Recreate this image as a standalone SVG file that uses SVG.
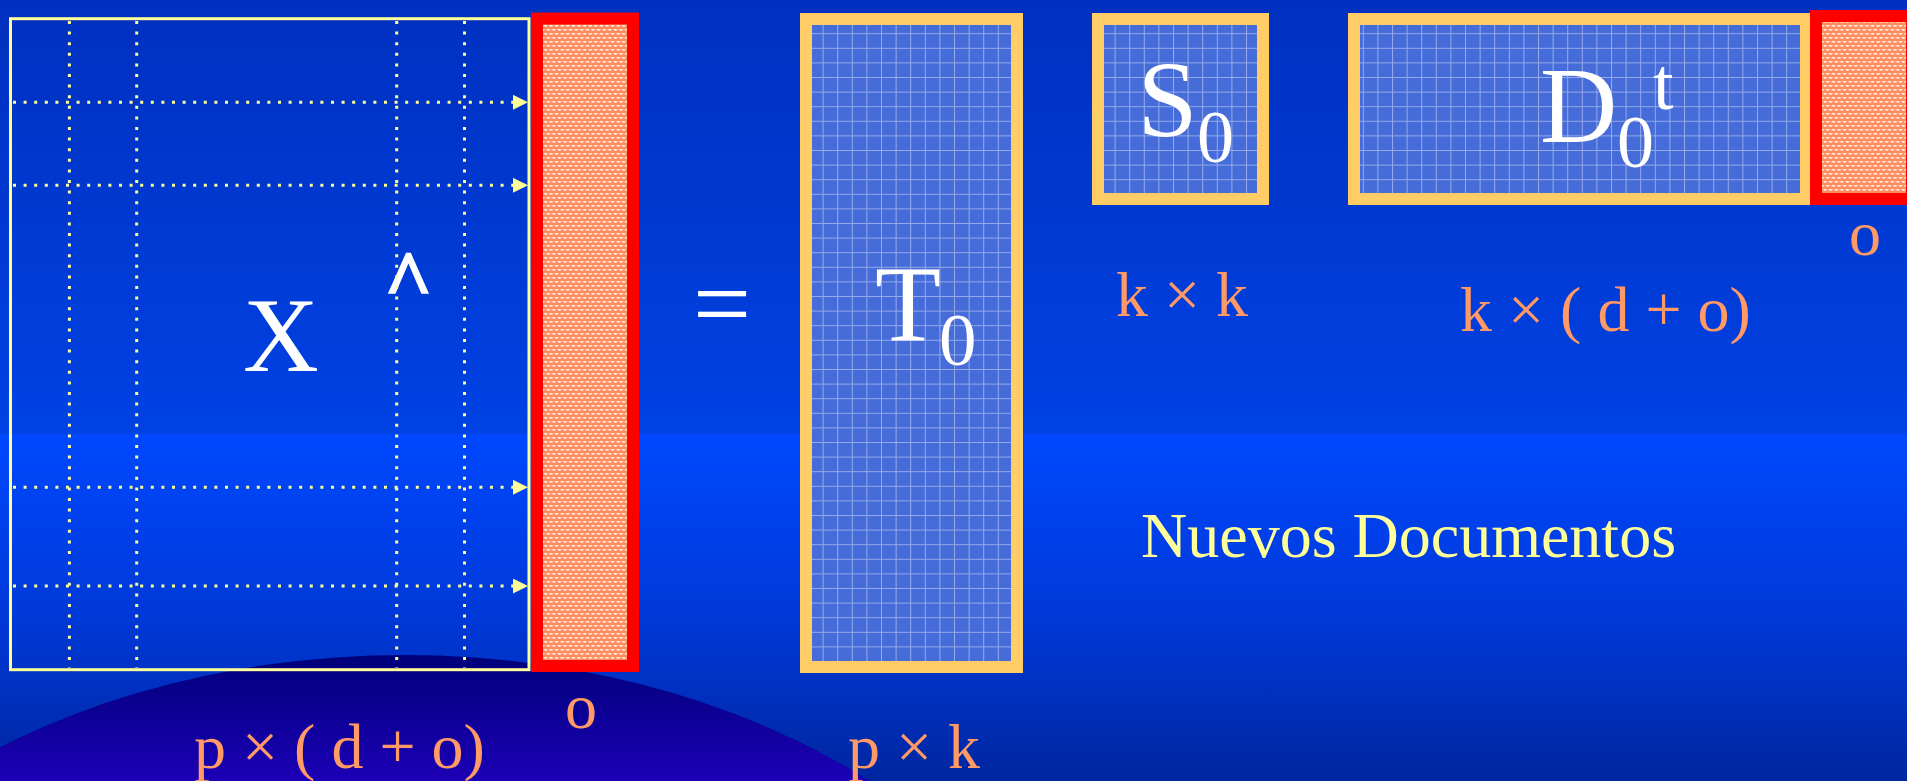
<svg xmlns="http://www.w3.org/2000/svg" width="1907" height="781" viewBox="0 0 1907 781">
<defs>
<linearGradient id="bgTop" x1="0" y1="0" x2="0" y2="434" gradientUnits="userSpaceOnUse">
<stop offset="0" stop-color="#0030bf"/>
<stop offset="1" stop-color="#0042e4"/>
</linearGradient>
<linearGradient id="bgBot" x1="0" y1="434" x2="0" y2="781" gradientUnits="userSpaceOnUse">
<stop offset="0" stop-color="#0048ff"/>
<stop offset="0.55" stop-color="#0038d6"/>
<stop offset="1" stop-color="#0026a0"/>
</linearGradient>
<linearGradient id="hill" x1="0" y1="655" x2="0" y2="781" gradientUnits="userSpaceOnUse">
<stop offset="0" stop-color="#00007a"/>
<stop offset="1" stop-color="#1c00b6"/>
</linearGradient>
<pattern id="grid" x="5" y="4" width="14.6" height="14.6" patternUnits="userSpaceOnUse">
<rect width="14.6" height="14.6" fill="#466cd9"/>
<path d="M0 0.5H14.6M0.5 0V14.6" stroke="#ffffff" stroke-opacity="0.42" stroke-width="1" fill="none"/>
</pattern>
<pattern id="dots" width="5.6" height="8" patternUnits="userSpaceOnUse">
<rect width="5.6" height="8" fill="#ff8c5c"/>
<rect x="0.5" y="1" width="3.4" height="1.6" fill="#ffffff" fill-opacity="0.85"/>
<rect x="3.3" y="5" width="3.4" height="1.6" fill="#ffffff" fill-opacity="0.85"/>
<rect x="-2.3" y="5" width="3.4" height="1.6" fill="#ffffff" fill-opacity="0.85"/>
</pattern>
<marker id="tri" viewBox="0 0 15 15" refX="15" refY="7.5" markerWidth="15" markerHeight="15" markerUnits="userSpaceOnUse" orient="auto">
<path d="M0 0L15 7.5L0 15Z" fill="#ffff99"/>
</marker>
<style>
.serif{font-family:"Liberation Serif","Times New Roman",serif;}
.big{fill:#ffffff;}
.lbl{fill:#ff9966;font-size:64px;}
.ybox{fill:url(#grid);stroke:#ffcc66;stroke-width:12;}
.rbox{fill:url(#dots);stroke:#ff0000;stroke-width:12;}
.dot{stroke:#ffff99;stroke-width:3;stroke-dasharray:3 7.6;fill:none;}
</style>
</defs>
<g id="background">
<rect x="0" y="0" width="1907" height="434" fill="url(#bgTop)"/>
<rect x="0" y="434" width="1907" height="347" fill="url(#bgBot)"/>
<ellipse cx="405" cy="1155" rx="700" ry="500" fill="url(#hill)"/>
</g>
<g id="node-X">
<rect x="10.5" y="18.7" width="518.5" height="651" fill="none" stroke="#ffff99" stroke-width="3"/>
<text class="serif big" x="243" y="371" font-size="105">X</text>
<text class="serif big" x="384" y="309" font-size="84" font-weight="bold" stroke="#ffffff" stroke-width="1.5">^</text>
</g>
<g id="connectors">
<line class="dot" x1="69.4" y1="21" x2="69.4" y2="668"/>
<line class="dot" x1="136.7" y1="21" x2="136.7" y2="668"/>
<line class="dot" x1="396.7" y1="21" x2="396.7" y2="668"/>
<line class="dot" x1="464.5" y1="21" x2="464.5" y2="668"/>
<line class="dot" x1="13" y1="102.3" x2="528" y2="102.3" marker-end="url(#tri)"/>
<line class="dot" x1="13" y1="185.3" x2="528" y2="185.3" marker-end="url(#tri)"/>
<line class="dot" x1="13" y1="487.3" x2="528" y2="487.3" marker-end="url(#tri)"/>
<line class="dot" x1="13" y1="586" x2="528" y2="586" marker-end="url(#tri)"/>
</g>
<g id="node-o-left">
<rect class="rbox" x="537" y="18.5" width="96" height="647.5"/>
<text class="serif lbl" x="565" y="728" font-size="66">o</text>
</g>
<g id="equals">
<text class="serif big" x="693" y="339" font-size="103">=</text>
</g>
<g id="node-T0">
<rect class="ybox" x="806" y="19" width="211" height="648"/>
<text class="serif big" x="875" y="340" font-size="108">T</text>
<text class="serif big" x="939" y="365" font-size="75">0</text>
</g>
<g id="node-S0">
<rect class="ybox" x="1098" y="19" width="165" height="180"/>
<text class="serif big" x="1137.5" y="136" font-size="108">S</text>
<text class="serif big" x="1197" y="162" font-size="74">0</text>
</g>
<g id="node-D0">
<rect class="ybox" x="1354" y="19" width="452" height="180"/>
<text class="serif big" x="1540" y="142" font-size="107">D</text>
<text class="serif big" x="1617" y="167" font-size="74">0</text>
<text class="serif big" x="1653" y="109" font-size="74">t</text>
</g>
<g id="node-o-right">
<rect class="rbox" x="1816" y="16" width="96" height="183"/>
<text class="serif lbl" x="1849" y="255">o</text>
</g>
<g id="labels">
<text class="serif lbl" x="194" y="768">p × ( d + o)</text>
<text class="serif lbl" x="848" y="768">p × k</text>
<text class="serif lbl" x="1116" y="316">k × k</text>
<text class="serif lbl" x="1460" y="331">k × ( d + o)</text>
<text class="serif" x="1141" y="557" font-size="64" fill="#ffff99">Nuevos Documentos</text>
</g>
</svg>
